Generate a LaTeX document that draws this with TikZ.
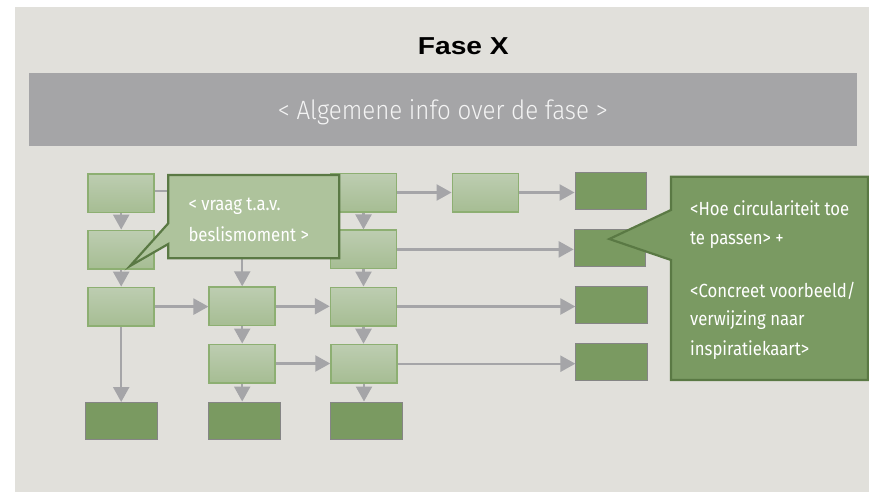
\documentclass[tikz,border=0pt]{standalone}
\usepackage{fontspec}
\usetikzlibrary{arrows.meta}
\newfontfamily\titlefont[FakeStretch=1.15]{Liberation Sans Bold}
\newfontfamily\infofont[FakeStretch=0.91]{Fira Sans Light}
\newfontfamily\notefont[FakeStretch=0.88]{Fira Sans}

\definecolor{pagebg}{HTML}{E1E0DB}
\definecolor{bandgray}{HTML}{A5A5A7}
\definecolor{infotext}{HTML}{F4F4F4}
\definecolor{boxtop}{HTML}{BDCDB1}
\definecolor{boxbot}{HTML}{A6BD93}
\definecolor{boxedge}{HTML}{8DAF72}
\definecolor{endfill}{HTML}{7A9A61}
\definecolor{endedge}{HTML}{858585}
\definecolor{flowgray}{HTML}{A5A5A8}
\definecolor{noteedge}{HTML}{5A7944}
\definecolor{notelight}{HTML}{AEC39C}
\definecolor{notedark}{HTML}{7A9A62}

\begin{document}
\begin{tikzpicture}[x=1pt,y=-1pt,
  stepbox/.style={draw=boxedge, line width=1.5pt, top color=boxtop, bottom color=boxbot,
    minimum width=66pt, minimum height=38.5pt, inner sep=0pt},
  endbox/.style={draw=endedge, line width=1pt, fill=endfill,
    minimum width=71.5pt, minimum height=37pt, inner sep=0pt},
  flowline/.style={draw=flowgray, line width=2.4pt},
  flow/.style={flowline, -{Triangle[length=15pt,width=16pt]}},
  note/.style={draw=noteedge, line width=2.2pt, line join=miter},
  notetext/.style={anchor=base west, inner sep=0pt, text=white,
    font=\notefont\fontsize{19}{24}\selectfont},
]
\useasboundingbox (0,0) rectangle (869,492);
\fill[white] (0,0) rectangle (869,492);
\fill[pagebg] (15,7) rectangle (869,492);

% heading and general info band
\node[anchor=base, inner sep=0pt, font=\titlefont\fontsize{24.5}{28}\selectfont] (title) at (463.3,54.3) {Fase X};
\node[fill=bandgray, minimum width=828pt, minimum height=73pt, inner sep=0pt] (band) at (443,109.5) {};
\node[anchor=base, inner sep=0pt, text=infotext, font=\infofont\fontsize{26.5}{30}\selectfont] (info) at (442.8,120) {< Algemene info over de fase >};

% process steps
\node[stepbox] (a1) at (121.2,193) {};
\node[stepbox] (a2) at (121.2,249.6) {};
\node[stepbox] (a3) at (121.2,306.6) {};
\node[stepbox] (b3) at (242.2,306.3) {};
\node[stepbox] (b4) at (242.2,363.5) {};
\node[stepbox] (c1) at (363.5,192.5) {};
\node[stepbox] (c2) at (363.5,249.4) {};
\node[stepbox] (c3) at (363.5,306.5) {};
\node[stepbox] (c4) at (364,363.7) {};
\node[stepbox] (m1) at (485.3,192.5) {};

% results
\node[endbox] (r1) at (610.8,190.7) {};
\node[endbox] (r2) at (609.9,248.3) {};
\node[endbox] (r3) at (611.6,305) {};
\node[endbox] (r4) at (611.6,362) {};
\node[endbox] (d1) at (121.7,421) {};
\node[endbox] (d2) at (244.3,420.5) {};
\node[endbox] (d3) at (366.3,420.5) {};

% connectors
\coordinate (a1out) at (200,191);
\coordinate (b2out) at (242.2,250);
\draw[flowline] (a1.east |- a1out) -- (a1out);
\draw[flow] (a1.south) -- (a2.north);
\draw[flow] (a2.south) -- (a3.north);
\draw[flow] (a3.south) -- (a3.south |- d1.north);
\draw[flow] (a3.east) -- (a3.east -| b3.west);
\draw[flow] (b2out) -- (b3.north);
\draw[flow] (b3.south) -- (b4.north);
\draw[flow] (b4.south) -- (b4.south |- d2.north);
\draw[flow] (b3.east) -- (b3.east -| c3.west);
\draw[flow] (b4.east) -- (b4.east -| c4.west);
\draw[flow] (c1.south) -- (c1.south |- c2.north);
\draw[flow] (c2.south) -- (c2.south |- c3.north);
\draw[flow] (c3.south) -- (c3.south |- c4.north);
\draw[flow] (c4.south) -- (c4.south |- d3.north);
\draw[flow] (c1.east) -- (c1.east -| m1.west);
\draw[flow] (m1.east) -- (m1.east -| r1.west);
\draw[flow] (c2.east) -- (c2.east -| r2.west);
\draw[flow] (c3.east) -- (c3.east -| r3.west);
\draw[flow] (c4.east) -- (c4.east -| r4.west);

% question callout
\draw[note, fill=notelight] (168.3,175) -- (339.3,175) -- (339.3,258.3) -- (168.3,258.3)
  -- (168.3,244) -- (130,266) -- (168.3,223.3) -- cycle;
\node[notetext] (q1) at (188.3,210) {< vraag t.a.v.};
\node[notetext] (q2) at (188.3,241) {beslismoment >};

% circularity callout
\draw[note, fill=notedark] (671,176.7) -- (868,176.7) -- (868,380) -- (671,380)
  -- (671,260) -- (609.3,239) -- (671,210) -- cycle;
\node[notetext] (h1) at (690,215) {<Hoe circulariteit toe};
\node[notetext] (h2) at (690,244) {te passen> +};
\node[notetext] (h3) at (690,297.3) {<Concreet voorbeeld/};
\node[notetext] (h4) at (690,325.7) {verwijzing naar};
\node[notetext] (h5) at (690,355) {inspiratiekaart>};
\end{tikzpicture}
\end{document}
